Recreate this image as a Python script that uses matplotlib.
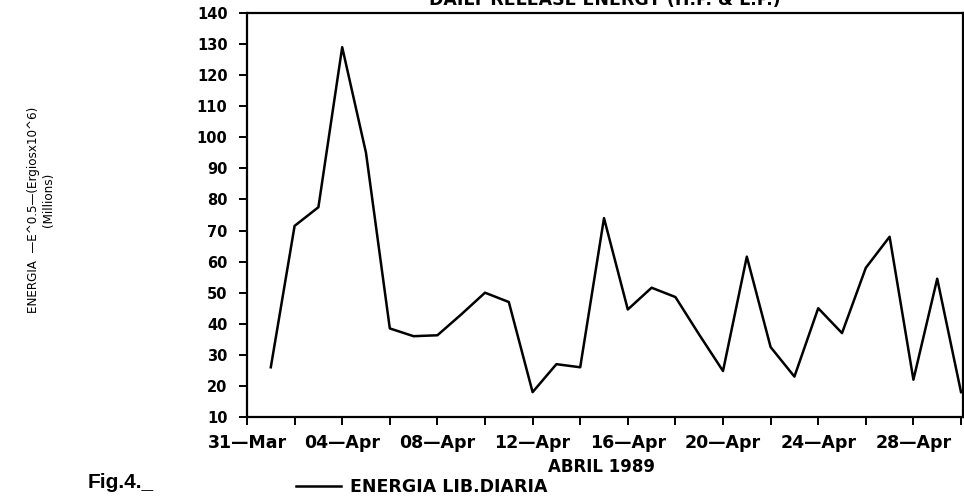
import matplotlib
import matplotlib.dates as mdates
import pandas as pd

matplotlib.use('Agg')
import matplotlib.pyplot as plt

# daily released energy, April 1989 (E^0.5, ergios x10^6, millions)
dates = pd.date_range('1989-04-01', '1989-04-30', freq='D')
energia = [26, 71.5, 77.5, 129, 95, 38.5, 36, 36.3, 43, 50,
           47, 18, 27, 26, 74, 44.6, 51.6, 48.6, 36.5, 24.8,
           61.6, 32.5, 23, 45, 37, 58, 68, 22, 54.5, 18]
tick_dates = pd.date_range('1989-03-31', '1989-04-28', freq='4D')
minor_dates = pd.date_range('1989-04-02', '1989-04-30', freq='4D')
yticks = list(range(10, 150, 10))

title = 'DAILY RELEASE ENERGY (H.P. & L.P.)'
xlabel = 'ABRIL 1989'
ylabel1 = 'ENERGIA  —E^0.5—(Ergiosx10^6)'
ylabel2 = '(Millions)'
series_name = 'ENERGIA LIB.DIARIA'

matplotlib.rcParams['font.family'] = 'DejaVu Sans'
matplotlib.rcParams['font.weight'] = 'bold'

fig = plt.figure(figsize=(9.64, 4.97), dpi=100)
ax = fig.add_axes([247 / 964, 1 - 417 / 497, 716 / 964, 404 / 497])

ax.plot(dates, energia, color='black', linewidth=1.8, label=series_name)

ax.set_xlim(pd.Timestamp('1989-03-31'), pd.Timestamp('1989-04-30 02:00'))
ax.set_ylim(10, 140)
ax.set_yticks(yticks)
ax.set_xticks(tick_dates)
ax.set_xticks(minor_dates, minor=True)
ax.xaxis.set_major_formatter(mdates.DateFormatter('%d\u2014%b'))

for s in ax.spines.values():
    s.set_linewidth(1.6)
ax.tick_params(axis='both', which='both', direction='out', length=6, width=1.4)
ax.tick_params(axis='y', labelsize=10.5, pad=8)
ax.tick_params(axis='x', labelsize=12.5, pad=6)
for lab in ax.get_xticklabels() + ax.get_yticklabels():
    lab.set_fontweight('bold')

# title is clipped by the top edge, as in the scanned original
fig.text(605 / 964, 1 - 5 / 497, title, ha='center', va='baseline',
         fontsize=12.5, fontweight='bold')
fig.text(602 / 964, 1 - 467 / 497, xlabel, ha='center', va='center',
         fontsize=12, fontweight='bold')

fig.text(34 / 964, 1 - 210 / 497, ylabel1, rotation=90, ha='center', va='center',
         fontsize=9.5, fontweight='normal', fontstretch='condensed')
fig.text(49 / 964, 1 - 200 / 497, ylabel2, rotation=90, ha='center', va='center',
         fontsize=9.5, fontweight='normal', fontstretch='condensed')

fig.text(88 / 964, 1 - 483 / 497, 'Fig.4._', ha='left', va='center',
         fontsize=15, fontweight='bold', family='Liberation Sans')

fig.legend(loc='center left', bbox_to_anchor=(287 / 964, 1 - 487 / 497),
           frameon=False, handlelength=2.6, handletextpad=0.55,
           borderpad=0, prop={'weight': 'bold', 'size': 12.5})

fig.savefig('out.png', dpi=100)
